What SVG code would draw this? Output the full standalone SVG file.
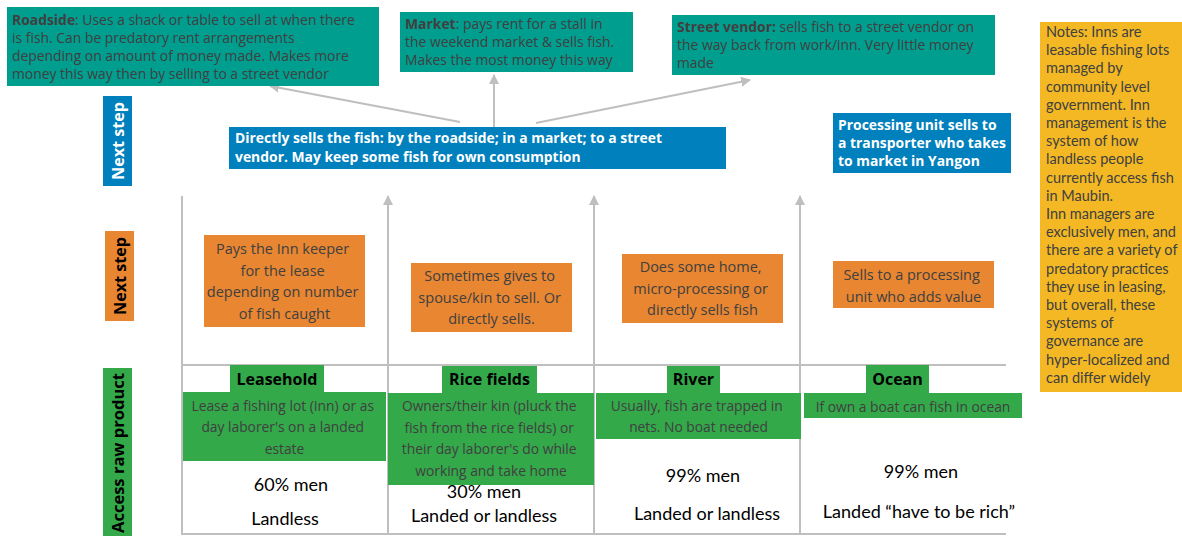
<svg xmlns="http://www.w3.org/2000/svg" width="1182" height="536" viewBox="0 0 1182 536">
  <defs>
    <marker id="arrow" markerUnits="userSpaceOnUse" markerWidth="10" markerHeight="10" refX="9" refY="5" orient="auto">
      <path d="M0,0 L10,5 L0,10 z" fill="#bfbfbf"/>
    </marker>
  </defs>
  <style>
    .teal { fill: #009e8f; }
    .blue { fill: #0080bc; }
    .orange { fill: #e88632; }
    .green { fill: #33a94a; }
    .notes { fill: #f3b823; }
    .conn { stroke: #bfbfbf; stroke-width: 2; fill: none; }
    .body { font-family: "Open Sans", "Noto Sans", sans-serif; fill: #404040; }
    .teal-t { font-size: 13.9px; }
    .orange-t { font-size: 14.5px; text-anchor: middle; }
    .green-t { font-size: 13.8px; text-anchor: middle; }
    .white-b { font-family: "Open Sans", "Noto Sans", sans-serif; font-weight: bold; fill: #ffffff; font-size: 13.9px; }
    .label { font-family: "Open Sans", "Noto Sans", sans-serif; font-weight: bold; font-size: 16.5px; text-anchor: middle; }
    .head { font-family: "Open Sans", "Noto Sans", sans-serif; font-weight: bold; font-size: 16px; fill: #000; text-anchor: middle; }
    .stat { font-family: "Lato", "Liberation Sans", sans-serif; font-size: 18px; fill: #000; text-anchor: middle; }
    .note-t { font-family: "Lato", "Liberation Sans", sans-serif; font-size: 14.5px; fill: #404040; }
  </style>

  <!-- connectors: grid lines and arrows -->
  <g id="connectors">
    <line class="conn" x1="182" y1="196" x2="182" y2="535"/>
    <line class="conn" x1="182" y1="365" x2="1006" y2="365"/>
    <line class="conn" x1="182" y1="534" x2="1006" y2="534"/>
    <line class="conn" x1="388" y1="535" x2="388" y2="196" marker-end="url(#arrow)"/>
    <line class="conn" x1="594" y1="535" x2="594" y2="196" marker-end="url(#arrow)"/>
    <line class="conn" x1="800" y1="535" x2="800" y2="196" marker-end="url(#arrow)"/>
    <line class="conn" x1="460" y1="122" x2="270" y2="86" marker-end="url(#arrow)"/>
    <line class="conn" x1="494" y1="128" x2="494" y2="75" marker-end="url(#arrow)"/>
    <line class="conn" x1="536" y1="123" x2="750" y2="80" marker-end="url(#arrow)"/>
  </g>

  <!-- row labels -->
  <g id="label-next-blue">
    <rect class="blue" x="103" y="96" width="29" height="90"/>
    <text class="label" fill="#ffffff" transform="translate(124,141) rotate(-90)" textLength="78" lengthAdjust="spacingAndGlyphs">Next step</text>
  </g>
  <g id="label-next-orange">
    <rect class="orange" x="105" y="231" width="29" height="90"/>
    <text class="label" fill="#000000" transform="translate(126,276) rotate(-90)" textLength="78" lengthAdjust="spacingAndGlyphs">Next step</text>
  </g>
  <g id="label-access">
    <rect class="green" x="103" y="368" width="29" height="168"/>
    <text class="label" fill="#000000" transform="translate(124,453) rotate(-90)" textLength="160" lengthAdjust="spacingAndGlyphs">Access raw product</text>
  </g>

  <!-- selling channels -->
  <g id="roadside">
    <rect class="teal" x="7" y="7" width="372" height="79"/>
    <text class="body teal-t">
      <tspan x="12" y="25"><tspan font-weight="bold">Roadside</tspan>: Uses a shack or table to sell at when there</tspan>
      <tspan x="12" y="43">is fish. Can be predatory rent arrangements</tspan>
      <tspan x="12" y="61">depending on amount of money made. Makes more</tspan>
      <tspan x="12" y="79">money this way then by selling to a street vendor</tspan>
    </text>
  </g>
  <g id="market">
    <rect class="teal" x="400" y="12" width="233" height="60"/>
    <text class="body teal-t">
      <tspan x="405" y="29"><tspan font-weight="bold">Market</tspan>: pays rent for a stall in</tspan>
      <tspan x="405" y="47">the weekend market &amp; sells fish.</tspan>
      <tspan x="405" y="65">Makes the most money this way</tspan>
    </text>
  </g>
  <g id="street-vendor">
    <rect class="teal" x="672" y="15" width="323" height="60"/>
    <text class="body teal-t">
      <tspan x="677" y="32"><tspan font-weight="bold">Street vendor:</tspan> sells fish to a street vendor on</tspan>
      <tspan x="677" y="50">the way back from work/inn. Very little money</tspan>
      <tspan x="677" y="68">made</tspan>
    </text>
  </g>

  <!-- notes -->
  <g id="notes">
    <rect class="notes" x="1040" y="22" width="142" height="370"/>
    <text class="note-t">
      <tspan x="1046" y="37">Notes: Inns are</tspan>
      <tspan x="1046" y="55.2">leasable fishing lots</tspan>
      <tspan x="1046" y="73.4">managed by</tspan>
      <tspan x="1046" y="91.6">community level</tspan>
      <tspan x="1046" y="109.8">government. Inn</tspan>
      <tspan x="1046" y="128">management is the</tspan>
      <tspan x="1046" y="146.2">system of how</tspan>
      <tspan x="1046" y="164.4">landless people</tspan>
      <tspan x="1046" y="182.6">currently access fish</tspan>
      <tspan x="1046" y="200.8">in Maubin.</tspan>
      <tspan x="1046" y="219">Inn managers are</tspan>
      <tspan x="1046" y="237.2">exclusively men, and</tspan>
      <tspan x="1046" y="255.4">there are a variety of</tspan>
      <tspan x="1046" y="273.6">predatory practices</tspan>
      <tspan x="1046" y="291.8">they use in leasing,</tspan>
      <tspan x="1046" y="310">but overall, these</tspan>
      <tspan x="1046" y="328.2">systems of</tspan>
      <tspan x="1046" y="346.4">governance are</tspan>
      <tspan x="1046" y="364.6">hyper-localized and</tspan>
      <tspan x="1046" y="382.8">can differ widely</tspan>
    </text>
  </g>

  <!-- second step (blue) -->
  <g id="direct-sell">
    <rect class="blue" x="229" y="127" width="497" height="42"/>
    <text class="white-b">
      <tspan x="235" y="143">Directly sells the fish: by the roadside; in a market; to a street</tspan>
      <tspan x="235" y="162">vendor. May keep some fish for own consumption</tspan>
    </text>
  </g>
  <g id="processing-sell">
    <rect class="blue" x="833" y="113" width="178" height="60"/>
    <text class="white-b">
      <tspan x="838" y="130">Processing unit sells to</tspan>
      <tspan x="838" y="148">a transporter who takes</tspan>
      <tspan x="838" y="166">to market in Yangon</tspan>
    </text>
  </g>

  <!-- first step (orange) -->
  <g id="pays-inn">
    <rect class="orange" x="204" y="235" width="161" height="92"/>
    <text class="body orange-t">
      <tspan x="284.5" y="254">Pays the Inn keeper</tspan>
      <tspan x="284.5" y="276">for the lease</tspan>
      <tspan x="284.5" y="297">depending on number</tspan>
      <tspan x="284.5" y="319">of fish caught</tspan>
    </text>
  </g>
  <g id="gives-kin">
    <rect class="orange" x="411" y="263" width="161" height="69"/>
    <text class="body orange-t">
      <tspan x="491.5" y="281">Sometimes gives to</tspan>
      <tspan x="491.5" y="303">spouse/kin to sell. Or</tspan>
      <tspan x="491.5" y="324">directly sells.</tspan>
    </text>
  </g>
  <g id="micro-processing">
    <rect class="orange" x="622" y="254" width="161" height="69"/>
    <text class="body orange-t">
      <tspan x="702.5" y="272">Does some home,</tspan>
      <tspan x="702.5" y="294">micro-processing or</tspan>
      <tspan x="702.5" y="315">directly sells fish</tspan>
    </text>
  </g>
  <g id="to-processor">
    <rect class="orange" x="833" y="261" width="161" height="47"/>
    <text class="body orange-t">
      <tspan x="913.5" y="280">Sells to a processing</tspan>
      <tspan x="913.5" y="302">unit who adds value</tspan>
    </text>
  </g>

  <!-- access to raw product (green) -->
  <g id="leasehold">
    <rect class="green" x="230" y="365" width="94" height="27"/>
    <text class="head" x="277" y="385">Leasehold</text>
    <rect class="green" x="183" y="392" width="203" height="69"/>
    <text class="body green-t">
      <tspan x="284.5" y="411">Lease a fishing lot (Inn) or as</tspan>
      <tspan x="284.5" y="432">day laborer's on a landed</tspan>
      <tspan x="284.5" y="454">estate</tspan>
    </text>
    <text class="stat" x="291" y="491">60% men</text>
    <text class="stat" x="285" y="525">Landless</text>
  </g>
  <g id="rice-fields">
    <rect class="green" x="442" y="366" width="95" height="27"/>
    <text class="head" x="489.5" y="385">Rice fields</text>
    <rect class="green" x="388" y="393" width="206" height="92"/>
    <text class="body green-t">
      <tspan x="491" y="411">Owners/their kin (pluck the</tspan>
      <tspan x="491" y="433">fish from the rice fields) or</tspan>
      <tspan x="491" y="454">their day laborer's do while</tspan>
      <tspan x="491" y="476">working and take home</tspan>
    </text>
    <text class="stat" x="484" y="498">30% men</text>
    <text class="stat" x="484" y="522">Landed or landless</text>
  </g>
  <g id="river">
    <rect class="green" x="667" y="366" width="53" height="27"/>
    <text class="head" x="693.5" y="385">River</text>
    <rect class="green" x="596" y="393" width="205" height="46"/>
    <text class="body green-t">
      <tspan x="698.5" y="411">Usually, fish are trapped in</tspan>
      <tspan x="698.5" y="432">nets. No boat needed</tspan>
    </text>
    <text class="stat" x="703" y="482">99% men</text>
    <text class="stat" x="707" y="520">Landed or landless</text>
  </g>
  <g id="ocean">
    <rect class="green" x="866" y="365" width="63" height="28"/>
    <text class="head" x="897.5" y="385">Ocean</text>
    <rect class="green" x="804" y="393" width="218" height="25"/>
    <text class="body green-t">
      <tspan x="913" y="412">If own a boat can fish in ocean</tspan>
    </text>
    <text class="stat" x="921" y="478">99% men</text>
    <text class="stat" x="919" y="518">Landed “have to be rich”</text>
  </g>
</svg>
